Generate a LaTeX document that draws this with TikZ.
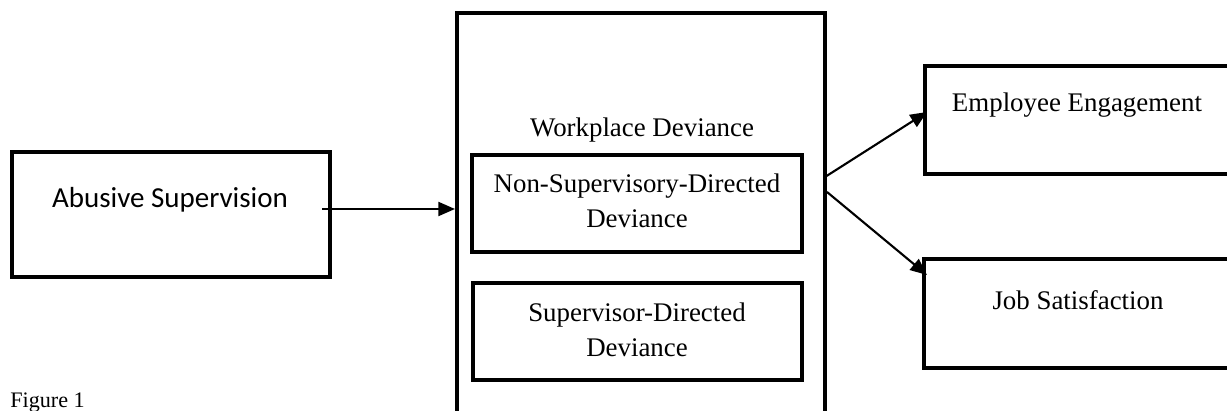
\documentclass[tikz,border=0pt]{standalone}
\usepackage{fontspec}
\setmainfont{Liberation Serif}
\newfontfamily\calfont{Carlito}
\usetikzlibrary{arrows.meta,fit}
\begin{document}
\begin{tikzpicture}[x=0.02cm,y=-0.02cm,
  box/.style={draw, line width=2.3pt, inner sep=0pt},
  txt/.style={inner sep=0pt, align=center, font=\fontsize{15.3}{19.8}\selectfont},
  sanstxt/.style={inner sep=0pt, font=\calfont\fontsize{16.5}{20}\selectfont},
  arr/.style={line width=1.2pt, -{Triangle[length=9.5pt,width=8pt]}}]
\path[use as bounding box] (0,0) rectangle (1227,411);
\clip (0,0) rectangle (1227,411);
% boxes
\node[box, fit={(12,152)(330,277)}] (abuse) {};
\node[sanstxt] (abuset) at (170,200) {Abusive Supervision};
\node[box, fit={(457,13)(825,440)}] (wd) {};
\node[txt] (wdt) at (642,130) {Workplace Deviance};
\node[box, fit={(472,155)(802,252)}] (nsd) {};
\node[txt] (nsdt) at (637,201) {Non-Supervisory-Directed\\Deviance};
\node[box, fit={(473,283)(802,380)}] (sd) {};
\node[txt] (sdt) at (637,330) {Supervisor-Directed\\Deviance};
\node[box, fit={(925,66)(1245,174)}] (ee) {};
\node[txt] (eet) at (1077,105) {Employee Engagement};
\node[box, fit={(924,259)(1245,368)}] (js) {};
\node[txt] (jst) at (1078,300) {Job Satisfaction};
\node[anchor=base west, inner sep=0pt, font=\fontsize{12.6}{15}\selectfont] (fig) at (10,408) {Figure 1};
% connectors
\coordinate (a1) at (322,209);
\draw[arr] (a1) -- (a1 -| wd.west);
\coordinate (b1) at (825,177);
\coordinate (b2) at (827,192);
\coordinate (e1) at (927,112);
\coordinate (e2) at (927,275);
\draw[arr] (b1) -- (e1);
\draw[arr] (b2) -- (e2);
\end{tikzpicture}
\end{document}
